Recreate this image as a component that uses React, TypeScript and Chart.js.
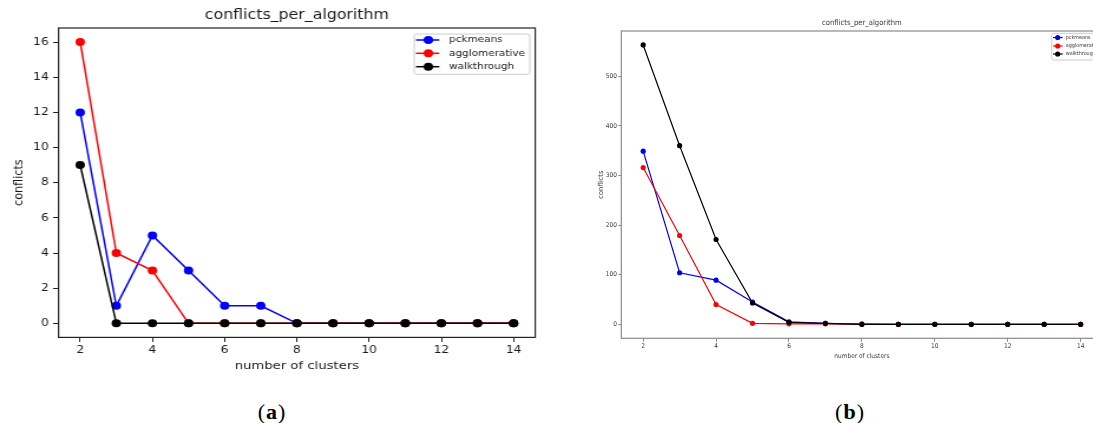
import React, { useEffect, useRef } from "react";
import { Chart, registerables } from "chart.js";

Chart.register(...registerables);

// ---- data ----
const clusters = [2, 3, 4, 5, 6, 7, 8, 9, 10, 11, 12, 13, 14];
const xTickValues = [2, 4, 6, 8, 10, 12, 14];
const seriesNames = ["pckmeans", "agglomerative", "walkthrough"];
const seriesColors = ["#0000ff", "#ff0000", "#000000"];

// panel (a)
const pckmeansA = [12, 1, 5, 3, 1, 1, 0, 0, 0, 0, 0, 0, 0];
const agglomerativeA = [16, 4, 3, 0, 0, 0, 0, 0, 0, 0, 0, 0, 0];
const walkthroughA = [9, 0, 0, 0, 0, 0, 0, 0, 0, 0, 0, 0, 0];
const yTicksA = [0, 2, 4, 6, 8, 10, 12, 14, 16];

// panel (b)
const pckmeansB = [349, 104, 89, 45, 5, 2, 0, 0, 0, 0, 0, 0, 0];
const agglomerativeB = [316, 179, 40, 2, 1, 1, 1, 0, 0, 0, 0, 0, 0];
const walkthroughB = [563, 360, 171, 43, 4, 2, 0, 0, 0, 0, 0, 0, 0];
const yTicksB = [0, 100, 200, 300, 400, 500];

const SANS = '"DejaVu Sans", sans-serif';
const NARROW = '"DejaVu Sans Condensed", "DejaVu Sans", sans-serif';

type PanelSpec = {
  left: number;
  clipWidth: number;
  stretch: number;
  width: number;
  height: number;
  area: { left: number; top: number; right: number; bottom: number };
  xRange: [number, number];
  yRange: [number, number];
  yTicks: number[];
  series: number[][];
  lineWidth: number;
  pointRadius: number;
  textColor: string;
  frameColor: string;
  frameWidth: number;
  family: string;
  tickFont: number;
  xTick: { length: number; padding: number };
  yTick: { length: number; padding: number };
  title: { text: string; size: number; y: number };
  xLabel: { text: string; size: number; y: number };
  yLabel: { text: string; size: number; x: number; family: string };
  legend: {
    x: number;
    y: number;
    w: number;
    h: number;
    rows: number[];
    lineX0: number;
    lineX1: number;
    markerX: number;
    textX: number;
    size: number;
    radius: number;
  };
  blur: number;
};

const panelA: PanelSpec = {
  left: 0,
  clipWidth: 552,
  stretch: 1.18,
  width: 468,
  height: 395,
  area: { left: 49.6, top: 28, right: 453.6, bottom: 337.4 },
  xRange: [1.4, 14.6],
  yRange: [-0.8, 16.8],
  yTicks: yTicksA,
  series: [pckmeansA, agglomerativeA, walkthroughA],
  lineWidth: 1.5,
  pointRadius: 4,
  textColor: "#1a1a1a",
  frameColor: "#222222",
  frameWidth: 1.2,
  family: SANS,
  tickFont: 10.4,
  xTick: { length: 4.5, padding: 2 },
  yTick: { length: 4.6, padding: 3.7 },
  title: { text: "conflicts_per_algorithm", size: 13.4, y: 16 },
  xLabel: { text: "number of clusters", size: 11.2, y: 366 },
  yLabel: { text: "conflicts", size: 11.2, x: 16.1, family: SANS },
  legend: {
    x: 351,
    y: 34,
    w: 98,
    h: 40.3,
    rows: [40, 53.3, 66.7],
    lineX0: 352.5,
    lineX1: 372.3,
    markerX: 363,
    textX: 380.5,
    size: 8.9,
    radius: 4,
  },
  blur: 0,
};

const panelB: PanelSpec = {
  left: 560,
  clipWidth: 533,
  stretch: 1,
  width: 560,
  height: 395,
  area: { left: 61.3, top: 31, right: 542.5, bottom: 338.3 },
  xRange: [1.4, 14.6],
  yRange: [-28.15, 591.15],
  yTicks: yTicksB,
  series: [pckmeansB, agglomerativeB, walkthroughB],
  lineWidth: 1.2,
  pointRadius: 2.6,
  textColor: "#3a3a3a",
  frameColor: "#8a8a8a",
  frameWidth: 1.2,
  family: NARROW,
  tickFont: 6.5,
  xTick: { length: 3.5, padding: 1 },
  yTick: { length: 3, padding: 1.3 },
  title: { text: "conflicts_per_algorithm", size: 7.6, y: 23.3 },
  xLabel: { text: "number of clusters", size: 6.5, y: 356.7 },
  yLabel: { text: "conflicts", size: 6.8, x: 41.5, family: SANS },
  legend: {
    x: 491.7,
    y: 33.3,
    w: 80,
    h: 26.7,
    rows: [37.5, 46, 54],
    lineX0: 493,
    lineX1: 502.7,
    markerX: 497.7,
    textX: 505.7,
    size: 5.4,
    radius: 2.6,
  },
  blur: 0.35,
};

function decorations(p: PanelSpec) {
  return {
    id: "panelDecor",
    afterDatasetsDraw(chart: Chart) {
      const { ctx, chartArea: a } = chart;
      ctx.save();
      ctx.strokeStyle = p.frameColor;
      ctx.lineWidth = p.frameWidth;
      ctx.strokeRect(a.left, a.top, a.right - a.left, a.bottom - a.top);
      ctx.restore();
    },
    afterDraw(chart: Chart) {
      const { ctx, chartArea: a } = chart;
      const cx = (a.left + a.right) / 2;
      const cy = (a.top + a.bottom) / 2;
      ctx.save();
      ctx.fillStyle = p.textColor;
      ctx.textAlign = "center";
      ctx.textBaseline = "middle";
      ctx.font = `${p.title.size}px ${p.family}`;
      ctx.fillText(p.title.text, cx, p.title.y);
      ctx.font = `${p.xLabel.size}px ${p.family}`;
      ctx.fillText(p.xLabel.text, cx, p.xLabel.y);
      ctx.save();
      ctx.translate(p.yLabel.x, cy);
      ctx.rotate(-Math.PI / 2);
      ctx.font = `${p.yLabel.size}px ${p.yLabel.family}`;
      ctx.fillText(p.yLabel.text, 0, 0);
      ctx.restore();

      // legend box
      const L = p.legend;
      ctx.fillStyle = "rgba(255,255,255,0.8)";
      ctx.strokeStyle = "#cccccc";
      ctx.lineWidth = 1;
      ctx.beginPath();
      ctx.roundRect(L.x, L.y, L.w, L.h, 2);
      ctx.fill();
      ctx.stroke();
      ctx.font = `${L.size}px ${p.family}`;
      ctx.textAlign = "left";
      seriesNames.forEach((name, i) => {
        const y = L.rows[i];
        ctx.strokeStyle = seriesColors[i];
        ctx.lineWidth = p.lineWidth;
        ctx.beginPath();
        ctx.moveTo(L.lineX0, y);
        ctx.lineTo(L.lineX1, y);
        ctx.stroke();
        ctx.fillStyle = seriesColors[i];
        ctx.beginPath();
        ctx.arc(L.markerX, y, L.radius, 0, Math.PI * 2);
        ctx.fill();
        ctx.fillStyle = p.textColor;
        ctx.fillText(name, L.textX, y);
      });
      ctx.restore();
    },
  };
}

function buildChart(canvas: HTMLCanvasElement, p: PanelSpec) {
  const datasets = p.series.map((values, i) => ({
    label: seriesNames[i],
    data: clusters.map((c, j) => ({ x: c, y: values[j] })),
    borderColor: seriesColors[i],
    backgroundColor: seriesColors[i],
    pointBackgroundColor: seriesColors[i],
    pointBorderWidth: 0,
    pointRadius: p.pointRadius,
    borderWidth: p.lineWidth,
    tension: 0,
    order: seriesNames.length - 1 - i,
  }));

  const tickColor = p.frameColor;
  return new Chart(canvas, {
    type: "line",
    data: { datasets },
    plugins: [decorations(p)],
    options: {
      responsive: false,
      animation: false,
      devicePixelRatio: 1,
      layout: {
        padding: {
          top: p.area.top,
          right: p.width - p.area.right,
          left: 0,
          bottom: 0,
        },
      },
      plugins: {
        legend: { display: false },
        title: { display: false },
        tooltip: { enabled: false },
      },
      scales: {
        x: {
          type: "linear",
          min: p.xRange[0],
          max: p.xRange[1],
          afterBuildTicks: (s: any) => {
            s.ticks = xTickValues.map((v) => ({ value: v }));
          },
          afterFit: (s: any) => {
            s.height = p.height - p.area.bottom;
          },
          grid: {
            display: true,
            drawOnChartArea: false,
            drawTicks: true,
            tickLength: p.xTick.length,
            color: tickColor,
            lineWidth: 1,
          },
          border: { display: false },
          ticks: {
            color: p.textColor,
            font: { family: p.family, size: p.tickFont },
            padding: p.xTick.padding,
            maxRotation: 0,
            autoSkip: false,
            callback: (v: any) => String(v),
          },
        },
        y: {
          type: "linear",
          min: p.yRange[0],
          max: p.yRange[1],
          afterBuildTicks: (s: any) => {
            s.ticks = p.yTicks.map((v) => ({ value: v }));
          },
          afterFit: (s: any) => {
            s.width = p.area.left;
          },
          grid: {
            display: true,
            drawOnChartArea: false,
            drawTicks: true,
            tickLength: p.yTick.length,
            color: tickColor,
            lineWidth: 1,
          },
          border: { display: false },
          ticks: {
            color: p.textColor,
            font: { family: p.family, size: p.tickFont },
            padding: p.yTick.padding,
            autoSkip: false,
            callback: (v: any) => String(v),
          },
        },
      },
    },
  } as any);
}

function Panel({ spec }: { spec: PanelSpec }) {
  const ref = useRef<HTMLCanvasElement>(null);
  useEffect(() => {
    const chart = buildChart(ref.current as HTMLCanvasElement, spec);
    return () => chart.destroy();
  }, [spec]);
  return (
    <div
      style={{
        position: "absolute",
        left: spec.left,
        top: 0,
        width: spec.clipWidth,
        height: spec.height,
        overflow: "hidden",
        filter: spec.blur ? `blur(${spec.blur}px)` : undefined,
      }}
    >
      <div
        style={{
          width: spec.width,
          height: spec.height,
          transform: spec.stretch !== 1 ? `scaleX(${spec.stretch})` : undefined,
          transformOrigin: "0 0",
        }}
      >
        <canvas
          ref={ref}
          width={spec.width}
          height={spec.height}
          style={{ display: "block", width: spec.width, height: spec.height }}
        />
      </div>
    </div>
  );
}

const captionStyle: React.CSSProperties = {
  position: "absolute",
  top: 398,
  width: 60,
  textAlign: "center",
  fontFamily: '"Liberation Serif", serif',
  fontSize: 22,
  lineHeight: "28px",
  letterSpacing: 1,
  color: "#000",
};

export default function App() {
  return (
    <div
      style={{
        position: "absolute",
        left: 0,
        top: 0,
        width: 1093,
        height: 423,
        background: "#ffffff",
        overflow: "hidden",
      }}
    >
      <Panel spec={panelA} />
      <Panel spec={panelB} />
      <div style={{ ...captionStyle, left: 272 - 30 }}>
        (<b>a</b>)
      </div>
      <div style={{ ...captionStyle, left: 850 - 30 }}>
        (<b>b</b>)
      </div>
    </div>
  );
}
